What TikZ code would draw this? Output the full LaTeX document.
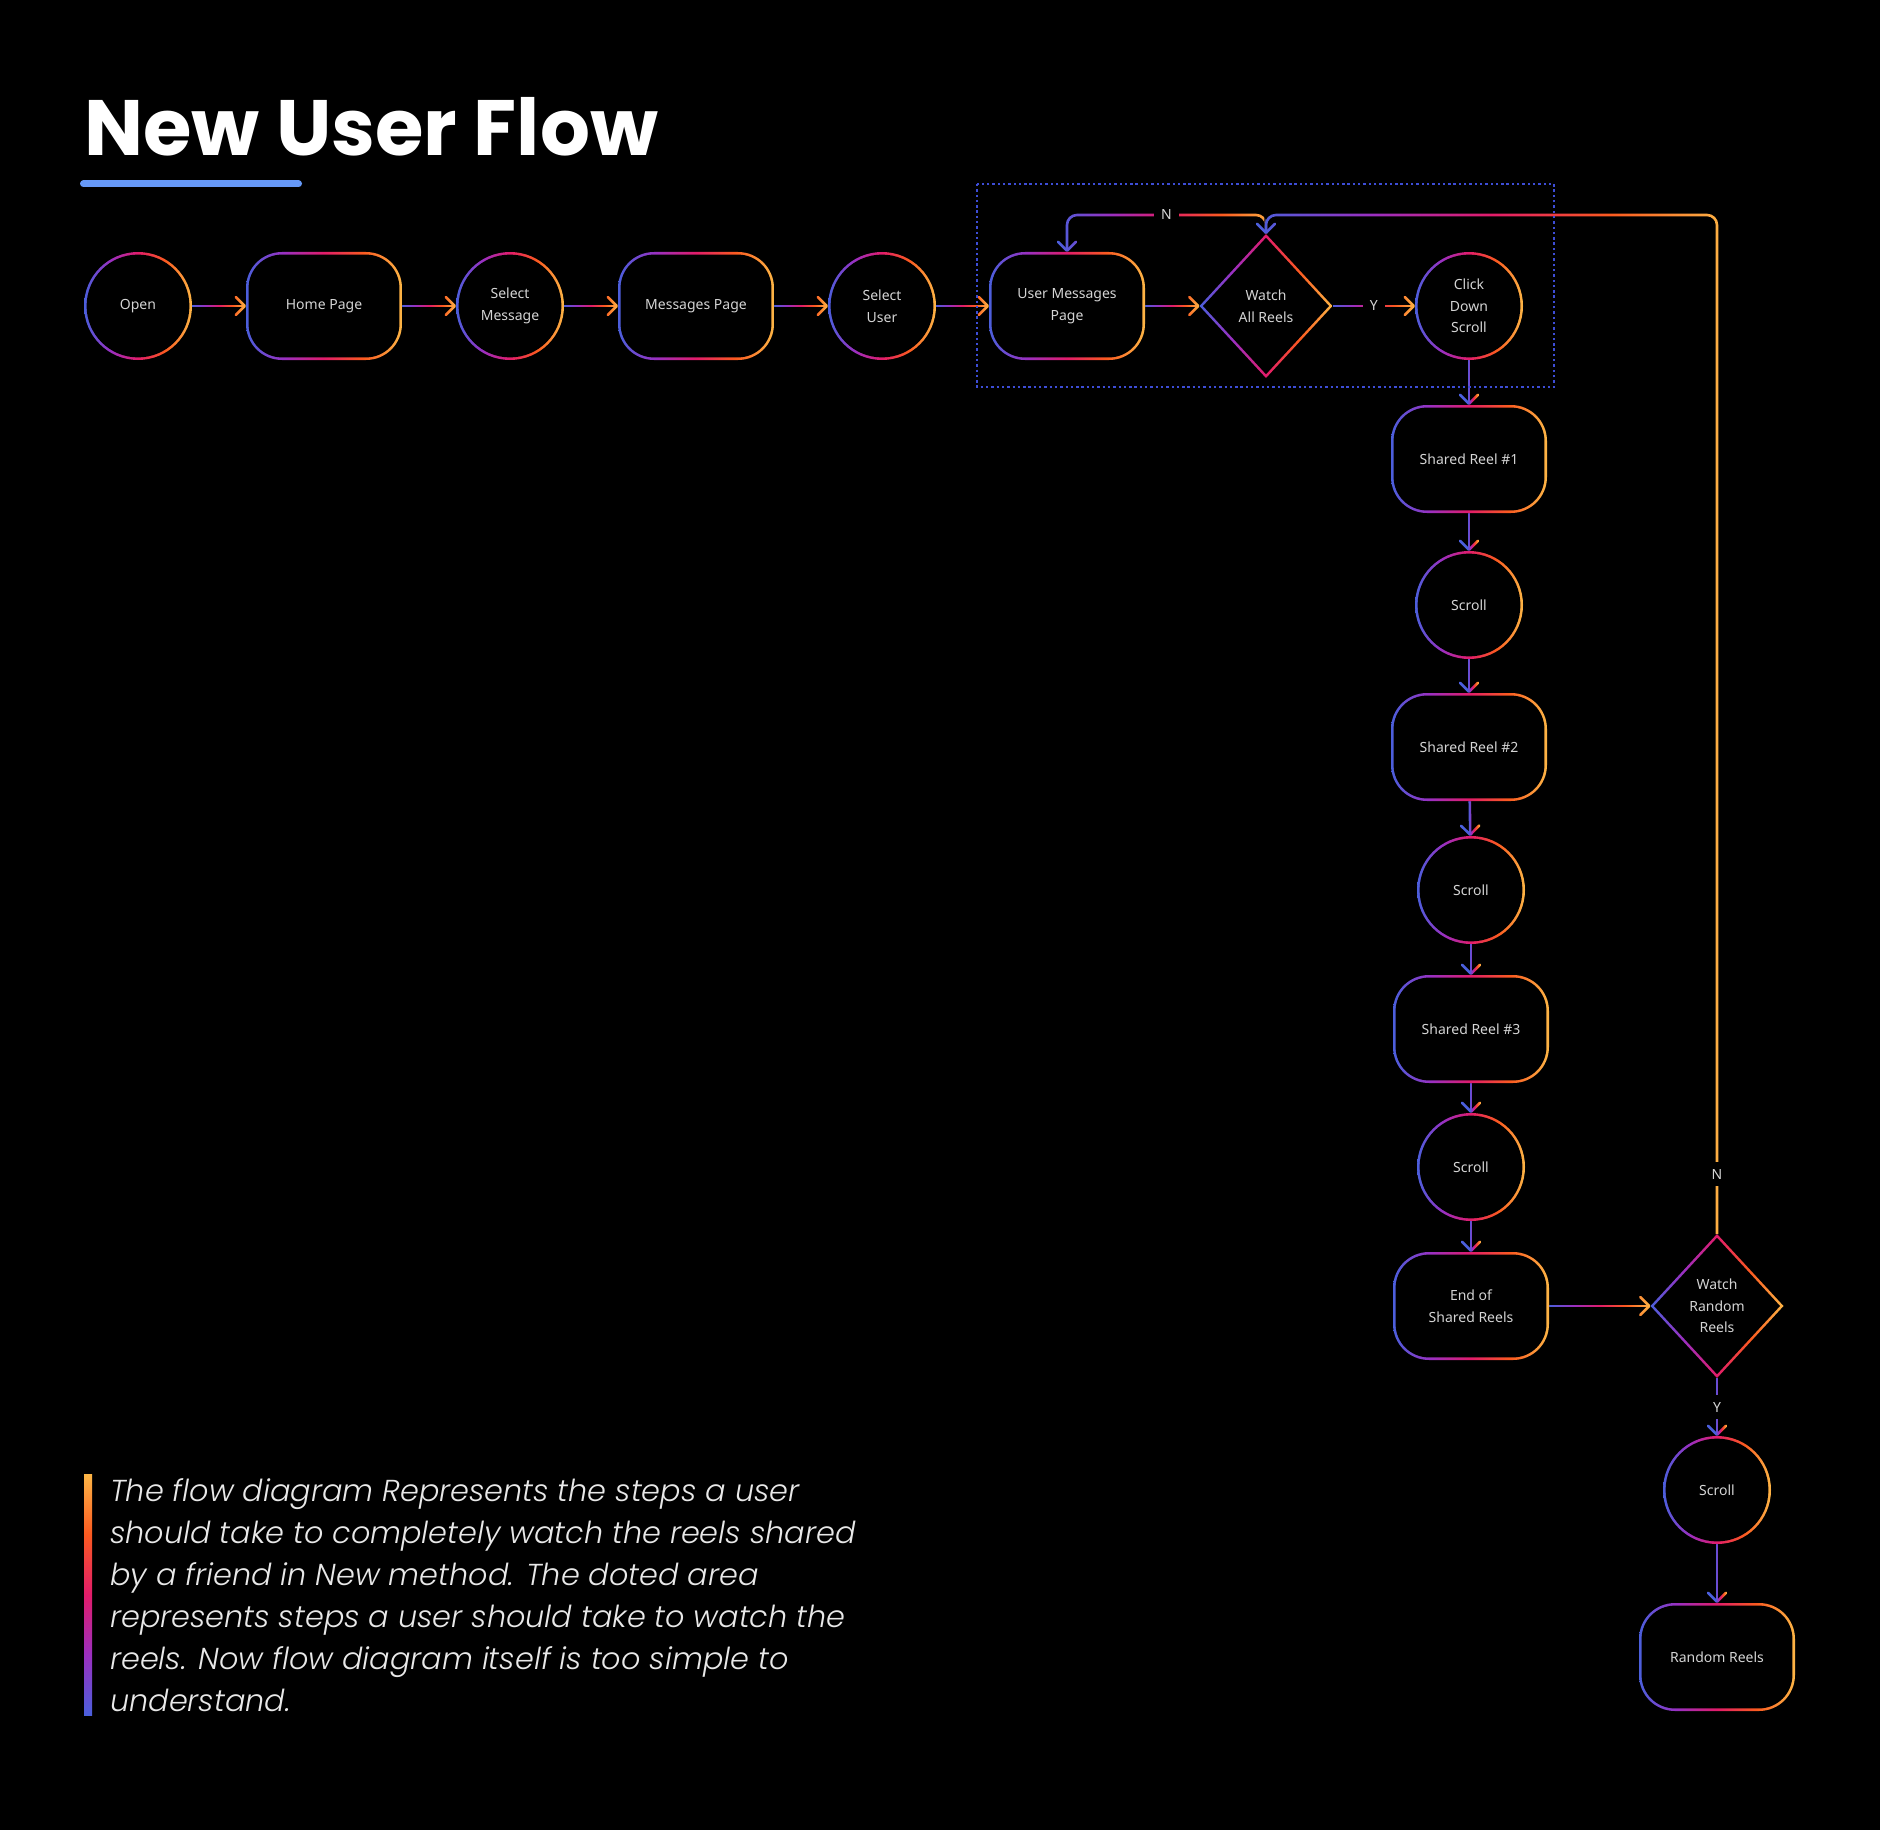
\documentclass[tikz,border=0pt]{standalone}
\usepackage{fontspec}
\usetikzlibrary{arrows.meta,shapes.geometric,calc}
\newfontfamily\nodefam{Noto Sans}
\newfontfamily\titlefam{Poppins}
\newfontfamily\parafam{Poppins Light Italic}
\definecolor{g1}{HTML}{4B5FDC}
\definecolor{g2}{HTML}{9B2FC0}
\definecolor{g3}{HTML}{E21C6A}
\definecolor{g4}{HTML}{FB5A20}
\definecolor{g5}{HTML}{FDB646}
\definecolor{txt}{HTML}{D4D4D4}
\definecolor{paratxt}{HTML}{E8E8E8}
\definecolor{dotblue}{HTML}{3D4DD6}
\definecolor{ulblue}{HTML}{6699F8}
\pgfdeclarehorizontalshading{hgrad}{100bp}{color(0bp)=(g1); color(25bp)=(g1); color(37.5bp)=(g2); color(50bp)=(g3); color(62.5bp)=(g4); color(75bp)=(g5); color(100bp)=(g5)}
\pgfdeclarehorizontalshading{vlinegrad}{100bp}{color(0bp)=(g1); color(25bp)=(g1); color(46bp)=(g1); color(53bp)=(g2); color(59bp)=(g3); color(66bp)=(g4); color(74bp)=(g5); color(100bp)=(g5)}
\pgfdeclareverticalshading{vgrad}{100bp}{color(0bp)=(g1); color(25bp)=(g1); color(37.5bp)=(g2); color(50bp)=(g3); color(62.5bp)=(g4); color(75bp)=(g5); color(100bp)=(g5)}
\pgfdeclarelayer{bglayer}
\pgfdeclarelayer{edgelayer}
\pgfdeclarelayer{toplayer}
\pgfsetlayers{bglayer,edgelayer,main,toplayer}
% gradient connector: white stroke, then multiplied by a gradient over its box
% #1 horizontal padding, #2 shading, #3 name, #4 path
\newcommand\gedge[4]{%
  \begin{scope}[local bounding box=#3]\draw[flow] #4;\end{scope}%
  \begin{scope}[blend mode=multiply]\shade[shading=#2] ([xshift=-#1,yshift=-10pt]#3.south west) rectangle ([xshift=#1,yshift=10pt]#3.north east);\end{scope}}
\newcommand\hedge[2]{\gedge{0pt}{hgrad}{#1}{#2}}
\newcommand\vedge[2]{\gedge{10pt}{vlinegrad}{#1}{#2}}
\begin{document}
\begin{tikzpicture}[x=1pt,y=-1pt,
  base/.style={fill=black, inner sep=0pt, outer sep=0pt, text=txt, align=center, font=\nodefam\fontsize{14}{21.6}\selectfont},
  circ/.style={base, circle, minimum size=108pt, path picture={
     \shade[shading=hgrad] (path picture bounding box.south west) rectangle (path picture bounding box.north east);
     \fill[black] (path picture bounding box.center) circle[radius=51.4pt];}},
  rbox/.style={base, rectangle, rounded corners=36pt, minimum width=156pt, minimum height=108pt, path picture={
     \shade[shading=hgrad, sharp corners] (path picture bounding box.south west) rectangle (path picture bounding box.north east);
     \fill[black, rounded corners=33.4pt] ([xshift=2.6pt,yshift=2.6pt]path picture bounding box.south west) rectangle ([xshift=-2.6pt,yshift=-2.6pt]path picture bounding box.north east);}},
  dia/.style={base, diamond, minimum width=133pt, minimum height=144pt, path picture={
     \shade[shading=hgrad] (path picture bounding box.south west) rectangle (path picture bounding box.north east);
     \fill[black] ([xshift=-63pt]path picture bounding box.center) -- ([yshift=68.2pt]path picture bounding box.center) -- ([xshift=63pt]path picture bounding box.center) -- ([yshift=-68.2pt]path picture bounding box.center) -- cycle;}},
  flow/.style={draw=white, line width=2.6pt, rounded corners=10pt, -{Straight Barb[length=9pt,width=18pt,round]}},
  lbl/.style={fill=black, text=txt, inner sep=7pt, font=\nodefam\fontsize{14}{16}\selectfont},
]
\begin{pgfonlayer}{bglayer}
\fill[black] (0,0) rectangle (1880,1830);
\end{pgfonlayer}

% nodes
\node[circ] (open)    at (138,306)  {Open};
\node[rbox] (home)    at (324,306)  {Home Page};
\node[circ] (selmsg)  at (510,306)  {Select\\Message};
\node[rbox] (msgs)    at (696,306)  {Messages Page};
\node[circ] (seluser) at (882,306)  {Select\\User};
\node[rbox] (ump)     at (1067,306) {User Messages\\Page};
\node[dia]  (war)     at (1266,306) {Watch\\All Reels};
\node[circ] (cds)     at (1469,306) {Click\\Down\\Scroll};
\node[rbox] (sr1)     at (1469,459) {Shared Reel \#1};
\node[circ] (sc1)     at (1469,605) {Scroll};
\node[rbox] (sr2)     at (1469,747) {Shared Reel \#2};
\node[circ] (sc2)     at (1471,890) {Scroll};
\node[rbox] (sr3)     at (1471,1029) {Shared Reel \#3};
\node[circ] (sc3)     at (1471,1167) {Scroll};
\node[rbox] (eosr)    at (1471,1306) {End of\\Shared Reels};
\node[dia]  (wrr)     at (1717,1306) {Watch\\Random\\Reels};
\node[circ] (sc4)     at (1717,1490) {Scroll};
\node[rbox] (rr)      at (1717,1657) {Random Reels};

\coordinate (looptop) at ([yshift=19pt]war.north);

% connectors
\begin{pgfonlayer}{edgelayer}
\gedge{10pt}{hgrad}{eN1}{(war.north) -- (looptop) -| (ump.north)}
\begin{scope}[local bounding box=eN2]\draw[flow] (wrr.north) |- (looptop) -- (war.north);\end{scope}
\begin{scope}[blend mode=multiply]
  \clip ([xshift=-2pt,yshift=25pt]war.north) rectangle ([xshift=15pt]wrr.north)
        ([xshift=-13pt,yshift=12pt]war.north) rectangle ([xshift=-2pt,yshift=-3pt]war.north);
  \shade[shading=hgrad] ([xshift=-10pt,yshift=-10pt]eN2.south west) rectangle ([xshift=10pt,yshift=10pt]eN2.north east);
\end{scope}
\hedge{e1}{(open) -- (home)}
\hedge{e2}{(home) -- (selmsg)}
\hedge{e3}{(selmsg) -- (msgs)}
\hedge{e4}{(msgs) -- (seluser)}
\hedge{e5}{(seluser) -- (ump)}
\hedge{e6}{(ump) -- (war)}
\hedge{e7}{(war) -- (cds)}
\vedge{e8}{(cds) -- (sr1)}
\vedge{e9}{(sr1) -- (sc1)}
\vedge{e10}{(sc1) -- (sr2)}
\vedge{e11}{(sr2) -- (sc2)}
\vedge{e12}{(sc2) -- (sr3)}
\vedge{e13}{(sr3) -- (sc3)}
\vedge{e14}{(sc3) -- (eosr)}
\hedge{e15}{(eosr) -- (wrr)}
\vedge{e16}{(wrr) -- (sc4)}
\vedge{e17}{(sc4) -- (rr)}
\end{pgfonlayer}

\begin{pgfonlayer}{toplayer}
\node[lbl] (lN1) at ($(ump.north |- looptop)!0.5!(looptop)$) {N};
\node[lbl] (lY1) at ($(war.east)!0.5!(cds.west)$) {Y};
\node[lbl] (lN2) at ([yshift=60pt]wrr.north) {N};
\node[lbl] (lY2) at ($(wrr.south)!0.5!(sc4.north)$) {Y};
\draw[dotblue, line width=2.4pt, dash pattern=on 2.4pt off 2.9pt] (977,184) rectangle (1554,387);
% title
\node[anchor=base west, inner sep=0pt, text=white, font=\titlefam\bfseries\fontsize{78.5}{82}\selectfont] (title) at (84,156) {New User Flow};
\draw[ulblue, line width=7pt, line cap=round] (83.5,184) -- (298.5,184);
% note
\shade[shading=vgrad] (84,1474) rectangle (92,1715);
\node[anchor=base west, inner sep=0pt, align=left, text=paratxt, font=\parafam\fontsize{30.3}{42}\selectfont] (para) at (110,1711) {The flow diagram Represents the steps a user\\should take to completely watch the reels shared\\by a friend in New method. The doted area\\represents steps a user should take to watch the\\reels. Now flow diagram itself is too simple to\\understand.};
\end{pgfonlayer}
\end{tikzpicture}
\end{document}
